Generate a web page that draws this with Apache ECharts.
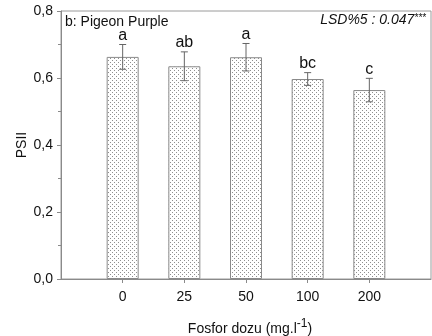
<!DOCTYPE html>
<html>
<head>
<meta charset="utf-8">
<script src="https://cdn.jsdelivr.net/npm/echarts@6/dist/echarts.min.js"></script>
<style>
  html, body { margin: 0; padding: 0; background: #fff; }
  #chart { width: 432px; height: 336px; }
</style>
</head>
<body>
<div id="chart"></div>
<script>
// veriler
var categories = ['0', '25', '50', '100', '200'];
var psii = [0.663, 0.635, 0.662, 0.597, 0.564];
var errors = [0.037, 0.043, 0.041, 0.019, 0.035];
var letters = ['a', 'ab', 'a', 'bc', 'c'];
var yTicks = [0, 0.2, 0.4, 0.6, 0.8];

// kenarlara boş kategori ekle
var axisCats = [''].concat(categories).concat(['']);

// noktalı desen
function dotPattern() {
    var c = document.createElement('canvas');
    c.width = 4; c.height = 4;
    var ctx = c.getContext('2d');
    ctx.fillStyle = '#fff';
    ctx.fillRect(0, 0, 4, 4);
    ctx.fillStyle = '#8f8f8f';
    ctx.fillRect(0, 0, 1, 1);
    ctx.fillRect(2, 2, 1, 1);
    return c;
}

var barData = psii.map(function (v, i) { return [i + 1, v]; });
var errData = psii.map(function (v, i) { return [i + 1, v - errors[i], v + errors[i], letters[i]]; });

var myChart = echarts.init(document.getElementById('chart'));
var option = {
    animation: false,
    grid: {
        left: 61,
        right: 1,
        top: 11,
        bottom: 57,
        outerBoundsMode: 'none',
        show: true,
        borderColor: '#9a9a9a',
        borderWidth: 1
    },
    xAxis: {
        type: 'category',
        data: axisCats,
        boundaryGap: false,
        axisLine: { lineStyle: { color: '#8a8a8a' } },
        axisTick: {
            length: 4,
            interval: function (idx, val) { return val !== ''; },
            lineStyle: { color: '#8a8a8a' }
        },
        axisLabel: {
            margin: 11,
            color: '#111',
            fontFamily: 'Liberation Sans',
            fontSize: 14
        },
        name: '{n|Fosfor dozu (mg.l}{s|-1}{n|)}',
        nameLocation: 'middle',
        nameGap: 38,
        nameMoveOverlap: false,
        nameTextStyle: {
            padding: [0, 0, 0, 8],
            rich: {
                n: { fontFamily: 'Liberation Sans', fontSize: 14, color: '#111', padding: [5, 0, 0, 0] },
                s: { fontFamily: 'Liberation Sans', fontSize: 12, color: '#111', padding: [0, 0, 6, 0] }
            }
        }
    },
    yAxis: {
        type: 'value',
        min: 0,
        max: 0.8,
        interval: 0.2,
        splitLine: { show: false },
        axisLine: { show: true, lineStyle: { color: '#8a8a8a' } },
        axisTick: { show: true, length: 4, lineStyle: { color: '#8a8a8a' } },
        minorTick: { show: true, splitNumber: 2, length: 3, lineStyle: { color: '#8a8a8a' } },
        axisLabel: {
            margin: 8,
            color: '#111',
            fontFamily: 'Liberation Sans',
            fontSize: 14,
            customValues: yTicks,
            formatter: function (v) { return v.toFixed(1).replace('.', ','); }
        },
        name: 'PSII',
        nameLocation: 'middle',
        nameRotate: 90,
        nameGap: 32,
        nameMoveOverlap: false,
        nameTextStyle: { fontFamily: 'Liberation Sans', fontSize: 14, color: '#111' }
    },
    graphic: [
        {
            type: 'text', left: 65, top: 15,
            style: { text: 'b: Pigeon Purple', font: '14px "Liberation Sans"', fill: '#111' }
        },
        {
            type: 'text', right: 6, top: 13,
            style: {
                text: '{n|LSD%5 : 0.047}{s|***}',
                rich: {
                    n: { font: 'italic 14px "Liberation Sans"', fill: '#111' },
                    s: { font: 'italic 10px "Liberation Sans"', fill: '#111', padding: [0, 0, 5, 0] }
                }
            }
        }
    ],
    series: [
        {
            type: 'bar',
            data: barData,
            barWidth: 32,
            itemStyle: {
                color: { image: dotPattern(), repeat: 'repeat' },
                borderColor: '#8a8a8a',
                borderWidth: 1
            }
        },
        {
            type: 'custom',
            data: errData,
            z: 10,
            renderItem: function (params, api) {
                var x = api.value(0);
                var lo = api.coord([x, api.value(1)]);
                var hi = api.coord([x, api.value(2)]);
                var w = 3.5;
                var st = { stroke: '#666', lineWidth: 1 };
                return {
                    type: 'group',
                    children: [
                        { type: 'line', shape: { x1: hi[0], y1: hi[1], x2: lo[0], y2: lo[1] }, style: st },
                        { type: 'line', shape: { x1: hi[0] - w, y1: hi[1], x2: hi[0] + w, y2: hi[1] }, style: st },
                        { type: 'line', shape: { x1: lo[0] - w, y1: lo[1], x2: lo[0] + w, y2: lo[1] }, style: st },
                        {
                            type: 'text',
                            x: hi[0], y: hi[1] - 1,
                            style: {
                                text: errData[params.dataIndex][3],
                                font: '16px "Liberation Sans"',
                                fill: '#111',
                                align: 'center',
                                verticalAlign: 'bottom'
                            }
                        }
                    ]
                };
            }
        }
    ]
};
myChart.setOption(option);
</script>
</body>
</html>
